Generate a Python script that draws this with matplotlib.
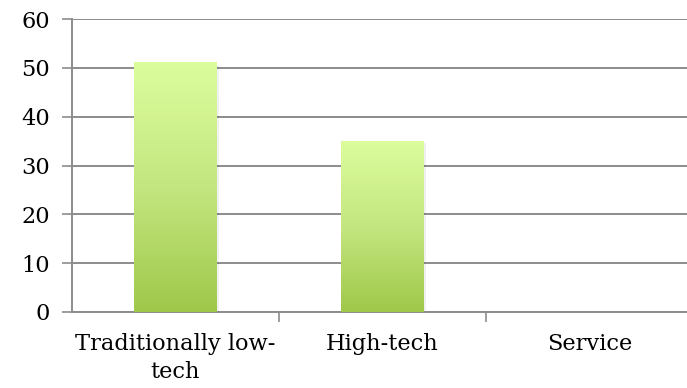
import numpy as np
import matplotlib
matplotlib.use('Agg')
import matplotlib.pyplot as plt
from matplotlib.colors import LinearSegmentedColormap

# data
categories = ['Traditionally low-\ntech', 'High-tech', 'Service']
values = [51, 35, 0]
y_ticks = [0, 10, 20, 30, 40, 50, 60]

plt.rcParams['font.family'] = ['DejaVu Serif']

fig = plt.figure(figsize=(6.87, 3.88), dpi=100)
ax = fig.add_axes([72/687, (388-312)/388, 621/687, (312-19)/388])

grid_col = '#8c8c8c'
x = np.arange(len(categories))
bars = ax.bar(x, values, width=0.4, color='none', zorder=3)

# vertical gradient from light yellow-green (top) to green (bottom)
cmap = LinearSegmentedColormap.from_list('grn', ['#9fc84a', '#c4e680', '#dcfd9c'])
grad = np.linspace(0, 1, 256).reshape(-1, 1)
for b in bars:
    h = b.get_height()
    if h <= 0:
        continue
    x0, w = b.get_x(), b.get_width()
    # soft shadow
    ax.bar(x0 + w/2 + 0.006, h, width=w + 0.012, bottom=-0.4, color='#000000', alpha=0.06, zorder=2)
    ax.imshow(grad, extent=[x0, x0 + w, 0, h], origin='lower', cmap=cmap,
              aspect='auto', zorder=3, interpolation='bicubic')

ax.set_xlim(-0.5, 2.5)
ax.set_ylim(0, 60)
ax.set_yticks(y_ticks)
ax.yaxis.grid(True, color=grid_col, linewidth=1.4, zorder=1)
ax.set_axisbelow(True)

fs = 16.2
ax.set_xticks(x)
ax.set_xticklabels(categories, fontsize=fs, linespacing=1.35)
ax.set_xticks([0.5, 1.5], minor=True)
ax.tick_params(axis='x', which='major', length=0, pad=15)
ax.tick_params(axis='x', which='minor', length=7, color=grid_col, width=1.2)
ax.tick_params(axis='y', length=7, color=grid_col, width=1.2, labelsize=fs, pad=9)

for s in ['top', 'right']:
    ax.spines[s].set_visible(False)
for s in ['left', 'bottom']:
    ax.spines[s].set_color(grid_col)
    ax.spines[s].set_linewidth(1.4)

fig.savefig('out.png', dpi=100)
